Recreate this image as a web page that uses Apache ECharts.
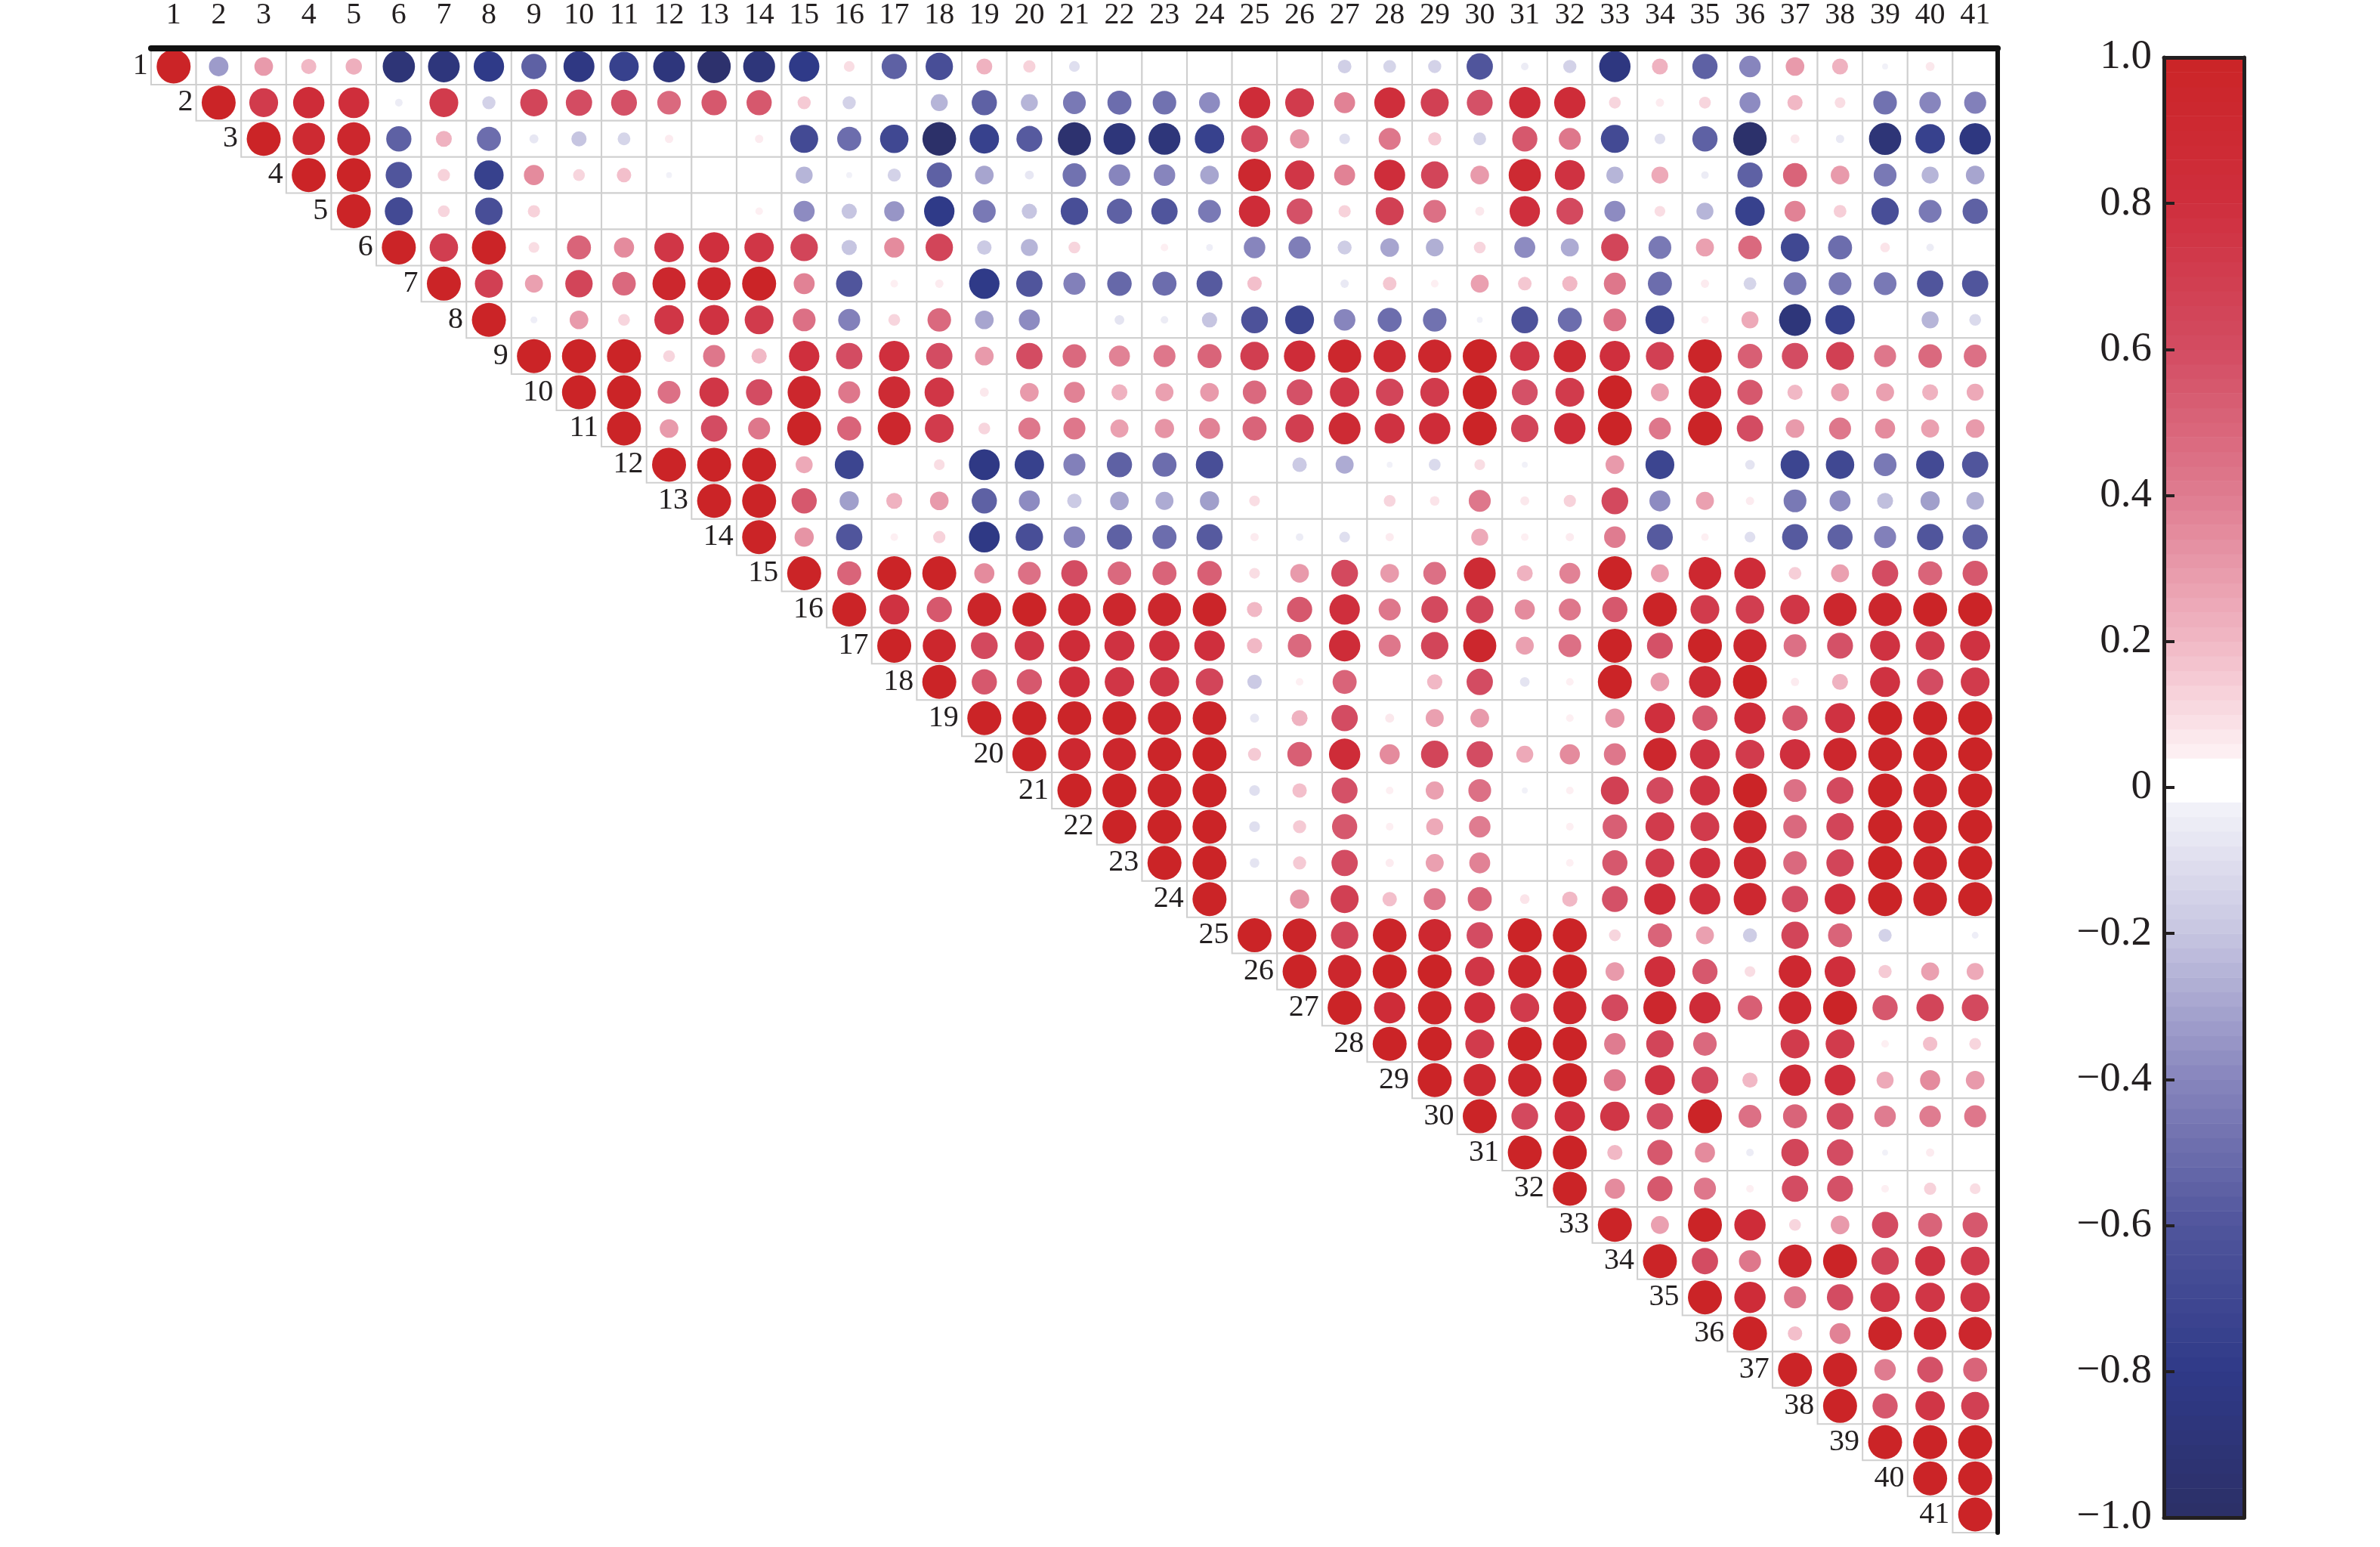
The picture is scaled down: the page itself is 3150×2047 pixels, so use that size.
<!DOCTYPE html>
<html><head><meta charset="utf-8">
<style>html,body{margin:0;padding:0;background:#fff}#c{width:3150px;height:2047px}</style>
<script src="https://cdn.jsdelivr.net/npm/echarts@6/dist/echarts.min.js"></script>
</head><body><div id="c"></div>
<script>
// Upper-triangle correlation values: rowN starts at column N.
const row1=[1,-.33,.3,.2,.23,-.9,-.87,-.8,-.55,-.83,-.75,-.87,-.96,-.88,-.8,.1,-.55,-.65,.22,.13,-.1,0,0,0,0,0,-.16,-.14,-.15,-.6,-.05,-.15,-.85,.22,-.55,-.4,.3,.22,-.03,.07,0];
const row2=[1,.72,.85,.82,-.05,.72,-.15,.65,.6,.58,.48,.55,.55,.15,-.15,-.01,-.25,-.55,-.25,-.45,-.5,-.48,-.38,.85,.72,.38,.82,.68,.58,.85,.85,.12,.06,.12,-.38,.2,.1,-.48,-.4,-.42];
const row3=[1,.9,.95,-.55,.22,-.5,-.07,-.2,-.14,.06,0,.06,-.68,-.5,-.7,-.98,-.75,-.58,-.95,-.88,-.88,-.75,.62,.32,-.1,.42,.15,-.14,.55,.42,-.68,-.1,-.55,-.97,.07,-.06,-.9,-.75,-.85];
const row4=[1,1,-.6,.13,-.75,.35,.12,.18,-.03,0,0,-.25,-.03,-.15,-.55,-.3,-.07,-.48,-.4,-.4,-.3,.93,.75,.38,.83,.65,.3,.9,.78,-.25,.25,-.05,-.55,.5,.3,-.45,-.25,-.3];
const row5=[1,-.68,.12,-.65,.13,0,0,0,0,.05,-.38,-.2,-.35,-.8,-.45,-.2,-.65,-.55,-.6,-.45,.85,.58,.13,.68,.45,.07,.8,.62,-.38,.1,-.25,-.75,.38,.14,-.65,-.45,-.55];
const row6=[1,.7,1,.1,.5,.35,.75,.8,.75,.65,-.2,.35,.65,-.18,-.25,.12,0,.05,-.04,-.4,-.43,-.17,-.3,-.27,.12,-.38,-.28,.65,-.45,.28,.48,-.7,-.5,.08,-.05,0];
const row7=[1,.68,.28,.65,.48,.95,.95,1,.38,-.6,.05,.06,-.8,-.6,-.42,-.52,-.5,-.58,.18,0,-.06,.16,.05,.28,.16,.2,.42,-.5,.06,-.14,-.45,-.45,-.45,-.6,-.6];
const row8=[1,-.04,.3,.12,.75,.78,.72,.45,-.42,.12,.48,-.3,-.38,0,-.08,-.05,-.2,-.62,-.72,-.4,-.5,-.48,-.03,-.62,-.5,.45,-.72,.05,.25,-.88,-.75,0,-.25,-.12];
const row9=[1,1,1,.12,.42,.2,.8,.6,.8,.6,.3,.6,.48,.38,.42,.5,.7,.85,.95,.9,.95,1,.75,.9,.8,.68,.98,.52,.6,.68,.42,.48,.45];
const row10=[1,1,.45,.75,.6,.95,.42,.88,.75,.07,.3,.38,.22,.28,.3,.48,.58,.75,.65,.72,1,.58,.72,1,.28,.92,.55,.2,.28,.28,.22,.25];
const row11=[1,.3,.6,.42,1,.5,.95,.72,.12,.42,.42,.28,.32,.38,.5,.7,.88,.78,.85,1,.65,.85,1,.42,1,.6,.3,.42,.35,.28,.3];
const row12=[1,1,1,.25,-.72,0,.1,-.82,-.75,-.42,-.55,-.5,-.65,-.01,-.18,-.28,-.03,-.12,.1,-.03,0,.3,-.72,0,-.08,-.72,-.7,-.45,-.68,-.6];
const row13=[1,1,.55,-.32,.22,.3,-.55,-.38,-.18,-.3,-.28,-.32,.1,0,0,.12,.08,.42,.07,.13,.62,-.38,.28,.06,-.45,-.38,-.22,-.32,-.27];
const row14=[1,.32,-.6,.05,.13,-.82,-.65,-.4,-.55,-.5,-.58,.06,-.05,-.1,.06,0,.25,.05,.06,.4,-.58,.05,-.1,-.58,-.55,-.42,-.6,-.55];
const row15=[1,.5,1,1,.35,.45,.6,.48,.5,.52,.1,.3,.62,.3,.45,.88,.22,.38,1,.28,.92,.85,.14,.28,.6,.5,.55];
const row16=[1,.78,.55,.98,1,.92,.95,.95,.98,.2,.55,.8,.42,.62,.65,.35,.42,.55,1,.72,.7,.75,.95,.95,1,1];
const row17=[1,.95,.62,.75,.85,.78,.8,.8,.2,.48,.85,.42,.65,.95,.28,.45,1,.58,1,.95,.45,.58,.78,.72,.78];
const row18=[1,.55,.55,.82,.75,.75,.65,-.18,.05,.5,.01,.2,.6,-.08,.05,1,.3,.88,1,.06,.22,.78,.6,.72];
const row19=[1,1,.98,.98,.95,.98,-.07,.22,.6,.07,.28,.3,0,.05,.32,.8,.55,.85,.55,.78,1,1,1];
const row20=[1,.92,.95,.98,1,.15,.52,.85,.35,.65,.6,.25,.35,.42,.95,.78,.72,.8,.95,.98,1,1];
const row21=[1,1,.98,1,-.1,.18,.58,.05,.28,.45,-.03,.05,.68,.62,.78,1,.45,.62,1,.98,1];
const row22=[1,1,1,-.1,.15,.55,.05,.25,.4,0,.05,.52,.72,.72,.95,.48,.65,1,.98,1];
const row23=[1,1,-.08,.15,.6,.06,.28,.38,0,.05,.55,.72,.8,.9,.48,.65,1,.98,1];
const row24=[1,0,.32,.68,.18,.42,.5,.08,.2,.58,.85,.82,.92,.6,.82,1,.98,1];
const row25=[1,.98,.65,.98,.92,.6,1,1,.12,.5,.28,-.17,.65,.5,-.15,0,-.04];
const row26=[1,.95,1,1,.75,.95,1,.3,.82,.55,.1,.92,.82,.15,.28,.25];
const row27=[1,.85,.97,.82,.72,.95,.62,.95,.85,.52,.92,1,.55,.65,.62];
const row28=[1,1,.72,1,1,.4,.65,.48,.01,.72,.72,.05,.18,.12];
const row29=[1,.9,.95,1,.42,.78,.62,.2,.85,.82,.25,.35,.3];
const row30=[1,.62,.8,.75,.6,1,.45,.5,.62,.4,.4,.42];
const row31=[1,1,.2,.55,.35,-.05,.65,.6,-.03,.06,0];
const row32=[1,.35,.55,.42,.05,.6,.58,.05,.13,.1];
const row33=[1,.28,1,.85,.12,.3,.6,.5,.55];
const row34=[1,.6,.42,.95,1,.65,.78,.72];
const row35=[1,.85,.42,.6,.75,.75,.75];
const row36=[1,.18,.38,.98,.92,.95];
const row37=[1,1,.4,.58,.5];
const row38=[1,.55,.75,.68];
const row39=[1,1,1];
const row40=[1,1];
const row41=[1];
const rows=[row1,row2,row3,row4,row5,row6,row7,row8,row9,row10,row11,row12,row13,row14,row15,row16,row17,row18,row19,row20,row21,row22,row23,row24,row25,row26,row27,row28,row29,row30,row31,row32,row33,row34,row35,row36,row37,row38,row39,row40,row41];
const categories=rows.map((_,i)=>String(i+1));
const paletteStops=[[-1,'#2c2f66'],[-.8,'#2f3a88'],[-.6,'#50559c'],[-.4,'#8785bd'],[-.2,'#c6c5e1'],[-.03,'#f1f1f8'],[-.02,'#ffffff'],[.04,'#ffffff'],[.05,'#fdeff2'],[.2,'#f1b8c5'],[.4,'#df7c90'],[.6,'#d34c62'],[.8,'#cf2f3d'],[1,'#cb2427']];
const bandCount=100;
const bands=Array.from({length:bandCount},(_,i)=>[-1+i*2/bandCount,-1+(i+1)*2/bandCount]);

function colorOf(v){
  for(let i=1;i<paletteStops.length;i++){
    if(v<=paletteStops[i][0]){
      const a=paletteStops[i-1],b=paletteStops[i];
      return echarts.color.lerp((v-a[0])/(b[0]-a[0]),[a[1],b[1]]);
    }
  }
  return paletteStops[paletteStops.length-1][1];
}
const cells=[];
rows.forEach((r,i)=>r.forEach((v,k)=>cells.push([i+k,i,v])));
const diag=categories.map((c,i)=>[i,i,c]);

const ink='#231f20', serif='Liberation Serif';
const chart=echarts.init(document.getElementById('c'),null,{renderer:'canvas'});
chart.setOption({
  animation:false,backgroundColor:'#fff',
  grid:[{left:200,top:62,width:2444,height:1966},{left:2864,top:76,width:106,height:1932}],
  xAxis:[
   {gridIndex:0,type:'category',position:'top',data:categories,z:6,
    axisLine:{lineStyle:{color:'#111',width:8}},axisTick:{show:false},
    axisLabel:{interval:0,fontFamily:serif,fontSize:40,color:ink,margin:24},splitLine:{show:false}},
   {gridIndex:1,type:'value',min:0,max:1,position:'bottom',z:6,axisLine:{onZero:false,lineStyle:{color:ink,width:5}},axisTick:{show:false},axisLabel:{show:false},splitLine:{show:false}},
   {gridIndex:1,type:'value',min:0,max:1,position:'top',z:6,axisLine:{onZero:false,lineStyle:{color:ink,width:5}},axisTick:{show:false},axisLabel:{show:false},splitLine:{show:false}}
  ],
  yAxis:[
   {gridIndex:0,type:'category',position:'right',inverse:true,data:categories,z:6,
    axisLine:{lineStyle:{color:'#111',width:6}},axisTick:{show:false},axisLabel:{show:false},splitLine:{show:false}},
   {gridIndex:1,type:'value',min:-1,max:1,interval:.2,position:'left',z:6,
    axisLine:{onZero:false,lineStyle:{color:ink,width:5}},
    axisTick:{inside:true,length:14,lineStyle:{color:ink,width:4}},
    axisLabel:{fontFamily:serif,fontSize:55,color:ink,margin:16,
      formatter:v=>{const r=Math.round(v*10)/10;if(r===0)return '0';return (r<0?'\u2212':'')+Math.abs(r).toFixed(1);}},
    splitLine:{show:false}},
   {gridIndex:1,type:'value',min:-1,max:1,interval:.2,position:'right',z:6,
    axisLine:{onZero:false,lineStyle:{color:ink,width:5}},axisTick:{show:false},axisLabel:{show:false},splitLine:{show:false}}
  ],
  series:[
   {type:'custom',xAxisIndex:0,yAxisIndex:0,z:1,silent:true,clip:false,data:cells,
    encode:{x:0,y:1},
    renderItem:(p,api)=>{
      const c=api.coord([api.value(0),api.value(1)]),s=api.size([1,1]);
      return {type:'rect',shape:{x:c[0]-s[0]/2,y:c[1]-s[1]/2,width:s[0],height:s[1]},
        style:{fill:'#fff',stroke:'#cfcfcf',lineWidth:2}};
    }},
   {type:'scatter',xAxisIndex:0,yAxisIndex:0,z:3,silent:true,data:cells,
    symbolSize:d=>45*Math.sqrt(Math.abs(d[2])),
    itemStyle:{opacity:1,color:p=>colorOf(p.value[2])}},
   {type:'scatter',xAxisIndex:0,yAxisIndex:0,z:4,silent:true,data:diag,symbolSize:0,
    itemStyle:{opacity:1},
    label:{show:true,position:'left',distance:34,formatter:p=>p.value[2],
      fontFamily:serif,fontSize:40,color:ink,opacity:1}},
   {type:'custom',xAxisIndex:1,yAxisIndex:1,z:1,silent:true,data:bands,
    encode:{y:[0,1]},
    renderItem:(p,api)=>{
      const lo=api.value(0),hi=api.value(1);
      const a=api.coord([0,hi]),b=api.coord([1,lo]);
      return {type:'rect',shape:{x:a[0],y:a[1],width:b[0]-a[0],height:b[1]-a[1]+.5},
        style:{fill:colorOf((lo+hi)/2)}};
    }}
  ]
});
</script></body></html>
